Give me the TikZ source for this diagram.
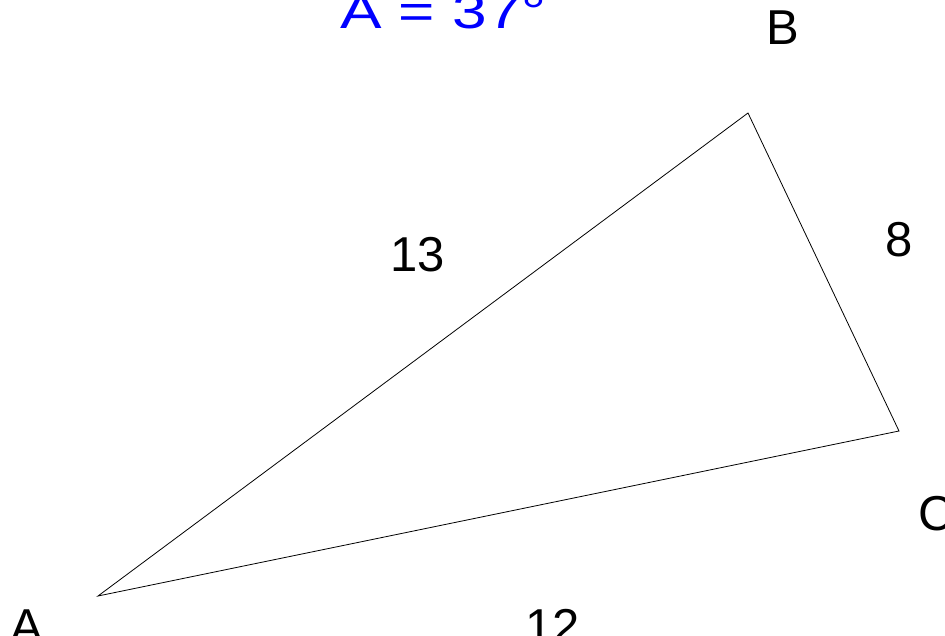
\documentclass[tikz,border=0pt]{standalone}
\usepackage{graphicx}
\usepackage{fontspec}
\setmainfont{Liberation Sans}
\usetikzlibrary{positioning}
\definecolor{AngleBlue}{RGB}{0,0,255}

\begin{document}
\begin{tikzpicture}[x=1pt, y=-1pt,
                side/.style={draw=black, line width=0.8pt},
                lbl/.style={anchor=base, inner sep=0pt, font=\fontsize{49}{58}\selectfont},
                anglelbl/.style={lbl, anchor=base west, text=AngleBlue}]
                \clip (0,0) rectangle (945,636);
                \coordinate (A) at (98,596);
                \coordinate (B) at (748,113);
                \coordinate (C) at (899,431);
                
                \draw[side] (A) -- (B) -- (C) -- cycle;
                
                \node[anglelbl] (angA) at (340,29) {\scalebox{1.27}[1]{A = 37°}};
                \node[lbl] (labB) at (783,45) {B};
                \node[lbl, anchor=base west] (labC) at (918,530) {C};
                \node[lbl] (labA) at (27,643) {A};
                \node[lbl] (sAB) at (418,272) {13};
                \node[lbl] (sBC) at (899,257) {8};
                \node[lbl] (sAC) at (553,643) {12};
            \end{tikzpicture}
\end{document}
